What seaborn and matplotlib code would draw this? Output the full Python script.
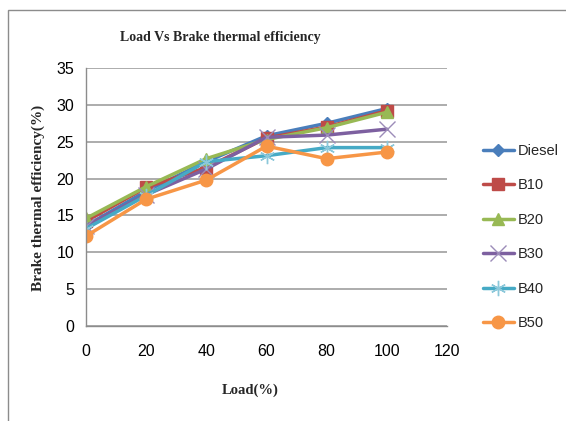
import matplotlib
matplotlib.use("Agg")
import matplotlib.pyplot as plt
from matplotlib.patches import Rectangle
import seaborn as sns
import pandas as pd

load = [0, 20, 40, 60, 80, 100]
diesel = [13.6, 18.3, 22.3, 25.8, 27.5, 29.5]
b10 = [14.2, 18.8, 21.5, 25.5, 27.0, 29.2]
b20 = [14.6, 18.9, 22.7, 25.3, 26.9, 29.0]
b30 = [13.6, 17.8, 21.3, 25.6, 25.9, 26.7]
b40 = [13.2, 17.7, 22.3, 23.1, 24.2, 24.2]
b50 = [12.2, 17.2, 19.8, 24.4, 22.7, 23.6]

series_names = ["Diesel", "B10", "B20", "B30", "B40", "B50"]
series_vals = [diesel, b10, b20, b30, b40, b50]
xticks = [0, 20, 40, 60, 80, 100, 120]
yticks = [0, 5, 10, 15, 20, 25, 30, 35]

palette = {"Diesel": "#4A7EBB", "B10": "#BE4B48", "B20": "#98B954",
           "B30": "#7D60A0", "B40": "#46AAC5", "B50": "#F79646"}
markers = {"Diesel": "D", "B10": "s", "B20": "^", "B30": "x",
           "B40": (6, 2, 0), "B50": "o"}
msizes = {"Diesel": 6.5, "B10": 8, "B20": 8, "B30": 11, "B40": 11, "B50": 9}
mecols = {"Diesel": "#4A7EBB", "B10": "#BE4B48", "B20": "#98B954",
          "B30": "#9C8CB9", "B40": "#8CC8DA", "B50": "#F79646"}

sns.set_theme(style="white")
plt.rcParams["font.family"] = ["Liberation Sans", "DejaVu Sans"]

fig = plt.figure(figsize=(5.66, 4.21), dpi=100)
ax = fig.add_axes([86/566, 1-326/421, (447-86)/566, (326-68)/421])

for name, vals in zip(series_names, series_vals):
    df = pd.DataFrame({"Load": load, "BTE": vals})
    sns.lineplot(data=df, x="Load", y="BTE", ax=ax, color=palette[name],
                 marker=markers[name], markersize=msizes[name],
                 markeredgecolor=mecols[name], markerfacecolor=palette[name],
                 markeredgewidth=1.0, linewidth=2.5, label=name)

ax.set_xlim(0, 120)
ax.set_ylim(0, 35)
ax.set_xticks(xticks)
ax.set_yticks(yticks)
ax.tick_params(axis="both", labelsize=11.5, labelcolor="#000000", length=5,
               width=1, direction="out", color="#8C8C8C")
ax.tick_params(axis="x", pad=8)
ax.yaxis.grid(True, color="#A6A6A6", linewidth=1.3)
ax.xaxis.grid(False)
for s in ["top", "right"]:
    ax.spines[s].set_visible(False)
for s in ["left", "bottom"]:
    ax.spines[s].set_color("#8C8C8C")
    ax.spines[s].set_linewidth(1.0)

ax.set_xlabel("Load(%)", fontfamily="Liberation Serif", fontweight="bold",
              fontsize=10.5)
ax.xaxis.set_label_coords((250-86)/(447-86), -(390-326)/(326-68))
ax.xaxis.label.set_va("center")
ax.set_ylabel("Brake thermal efficiency(%)", fontfamily="Liberation Serif",
              fontweight="bold", fontsize=11)
ax.yaxis.set_label_coords(-(86-38)/(447-86), (326-198)/(326-68))
ax.yaxis.label.set_va("center")
fig.text(220/566, 1-37/421, "Load Vs Brake thermal efficiency",
         fontfamily="Liberation Serif", fontweight="bold", fontsize=10,
         ha="center", va="center")

leg = ax.legend(loc="upper left", bbox_to_anchor=(483/566, 1-144/421),
                bbox_transform=fig.transFigure, frameon=False,
                fontsize=10.5, labelspacing=1.4, handlelength=2.1,
                handletextpad=0.3, borderpad=0, borderaxespad=0)

fig.patches.append(Rectangle((7.5/566, -0.05), 1.2, 1-9.5/421+0.05,
                             transform=fig.transFigure, fill=False,
                             edgecolor="#8C8C8C", linewidth=1.0))

fig.savefig("out.png", dpi=100)
